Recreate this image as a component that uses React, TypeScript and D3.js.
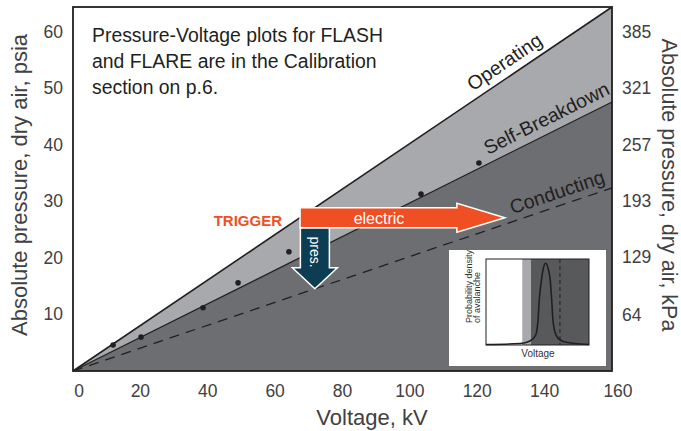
import React from "react";
import * as d3 from "d3";

// ---- data ----
const voltageTicks = [0, 20, 40, 60, 80, 100, 120, 140, 160];
const psiaTicks = [10, 20, 30, 40, 50, 60];
const kpaTicks = [64, 129, 193, 257, 321, 385];

const lineVoltage = [0, 160];
const operatingPsia = [0, 64.4];
const breakdownPsia = [0, 47.6];
const conductingPsia = [0, 32.4];

const measuredVoltage = [11.9, 20.2, 38.6, 49.0, 64.1, 103.3, 120.5];
const measuredPsia = [4.6, 6.0, 11.2, 15.6, 21.1, 31.3, 36.8];

const noteLines = [
  "Pressure-Voltage plots for FLASH",
  "and FLARE are in the Calibration",
  "section on p.6.",
];

// trigger annotation anchors (data space)
const triggerVoltage = 67.4;
const triggerPsia = 27.1;
const electricTipVoltage = 128.2;
const presTipVoltage = 71.8;

// inset (schematic) data
const insetVoltage = [0, 33, 42.7, 48.3, 50.5, 51.7, 53.9, 55.8, 58, 60.1, 62.3, 63.8, 65, 68, 73.8, 86.4, 100];
const insetDensity = [0.006, 0.017, 0.047, 0.116, 0.29, 0.52, 0.76, 0.9, 0.95, 0.9, 0.76, 0.52, 0.29, 0.116, 0.047, 0.017, 0.006];
const insetBreakdown = 35.2;
const insetConducting = 43.7;
const insetOperating = 71.8;

const FONT = "'Liberation Sans', Arial, Helvetica, sans-serif";
const LIGHT = "#a7a9ac";
const DARK = "#6d6e71";
const INK = "#231f20";
const TXT = "#414042";

export default function App() {
  const W = 681, H = 431;
  const left = 73, right = 612, top = 7, bottom = 371;
  const yMax = 64.4;
  const kpaPerPsia = 385 / 60;

  const x = d3.scaleLinear().domain([0, 160]).range([left, right]);
  const y = d3.scaleLinear().domain([0, yMax]).range([bottom, top]);
  const yK = d3.scaleLinear().domain([0, yMax * kpaPerPsia]).range([bottom, top]);

  const idx = lineVoltage.map((_, i) => i);
  const lightArea = d3.area<number>()
    .x((i) => x(lineVoltage[i]))
    .y0((i) => y(breakdownPsia[i]))
    .y1((i) => y(operatingPsia[i]))(idx)!;
  const darkArea = d3.area<number>()
    .x((i) => x(lineVoltage[i]))
    .y0(() => y(0))
    .y1((i) => y(breakdownPsia[i]))(idx)!;
  const mkLine = (vals: number[]) =>
    d3.line<number>().x((i) => x(lineVoltage[i])).y((i) => y(vals[i]))(idx)!;

  const slopeOf = (vals: number[]) => vals[1] / (lineVoltage[1] - lineVoltage[0]);
  const angleOf = (vals: number[]) =>
    (Math.atan2(y(vals[1]) - y(vals[0]), x(lineVoltage[1]) - x(lineVoltage[0])) * 180) / Math.PI;

  const lineLabel = (text: string, vals: number[], v: number, off: number) => {
    const a = angleOf(vals);
    const px = x(v), py = y(slopeOf(vals) * v);
    return (
      <text
        key={text}
        transform={`translate(${px},${py}) rotate(${a}) translate(0,${-off})`}
        textAnchor="middle"
        fontSize={19.5}
        fill={INK}
        fontFamily={FONT}
      >
        {text}
      </text>
    );
  };

  // arrows
  const ex0 = x(triggerVoltage);
  const eyc = y(triggerPsia);
  const ext = x(electricTipVoltage);
  const shaftH = 10, headH = 14.5, headL = 48;
  const electricPts = [
    [ex0, eyc - shaftH], [ext - headL, eyc - shaftH], [ext - headL, eyc - headH], [ext, eyc],
    [ext - headL, eyc + headH], [ext - headL, eyc + shaftH], [ex0, eyc + shaftH],
  ];
  const cSlope = slopeOf(conductingPsia);
  const pxc = x(presTipVoltage);
  const pyt = y(cSlope * presTipVoltage);
  const pTop = eyc + shaftH;
  const pShaftW = 14.5, pHeadW = 22.5, pHeadL = 21;
  const presPts = [
    [pxc - pShaftW, pTop], [pxc + pShaftW, pTop], [pxc + pShaftW, pyt - pHeadL], [pxc + pHeadW, pyt - pHeadL],
    [pxc, pyt], [pxc - pHeadW, pyt - pHeadL], [pxc - pShaftW, pyt - pHeadL],
  ];
  const ptsStr = (p: number[][]) => p.map((q) => q.join(",")).join(" ");

  // inset
  const ix = d3.scaleLinear().domain([0, 100]).range([486, 589]);
  const iy = d3.scaleLinear().domain([0, 1]).range([345, 259]);
  const insetIdx = insetVoltage.map((_, i) => i);
  const insetCurve = d3.line<number>()
    .x((i) => ix(insetVoltage[i]))
    .y((i) => iy(insetDensity[i]))
    .curve(d3.curveMonotoneX)(insetIdx)!;

  return (
    <svg width={W} height={H} style={{ position: "absolute", left: 0, top: 0, background: "#fff" }} fontFamily={FONT}>
      <rect x={0} y={0} width={W} height={H} fill="#fff" />
      {/* regions */}
      <path d={lightArea} fill={LIGHT} />
      <path d={darkArea} fill={DARK} />
      {/* lines */}
      <path d={mkLine(operatingPsia)} stroke={INK} strokeWidth={1.6} fill="none" />
      <path d={mkLine(breakdownPsia)} stroke={INK} strokeWidth={1.3} fill="none" />
      <path d={mkLine(conductingPsia)} stroke={INK} strokeWidth={1.3} fill="none" strokeDasharray="10,7" />
      {/* measured points */}
      {measuredVoltage.map((v, i) => (
        <circle key={i} cx={x(v)} cy={y(measuredPsia[i])} r={2.8} fill={INK} />
      ))}
      {/* line labels */}
      {lineLabel("Operating", operatingPsia, 130.5, 8)}
      {lineLabel("Self-Breakdown", breakdownPsia, 142.5, 8)}
      {lineLabel("Conducting", conductingPsia, 145, 7)}

      {/* note */}
      {noteLines.map((t, i) => (
        <text key={t} x={92} y={42 + i * 26} fontSize={19.4} fill={INK}>
          {t}
        </text>
      ))}

      {/* arrows */}
      <polygon points={ptsStr(presPts)} fill="#0c3d52" stroke="#fff" strokeWidth={1.5} />
      <text
        transform={`translate(${pxc},${252}) rotate(90)`}
        textAnchor="middle"
        dominantBaseline="central"
        fontSize={14}
        fill="#fff"
      >
        pres.
      </text>
      <polygon points={ptsStr(electricPts)} fill="#f04e23" stroke="#fff" strokeWidth={1.5} />
      <text x={379} y={eyc + 6} textAnchor="middle" fontSize={16} fill="#fff">
        electric
      </text>
      <text x={282} y={eyc + 8} textAnchor="end" fontSize={15} fontWeight="bold" fill="#f04e23">
        TRIGGER
      </text>

      {/* inset */}
      <rect x={449} y={250} width={157} height={116} fill="#fff" />
      <rect x={ix(0)} y={iy(1)} width={ix(insetBreakdown) - ix(0)} height={iy(0) - iy(1)} fill="#fff" />
      <rect x={ix(insetBreakdown)} y={iy(1)} width={ix(insetConducting) - ix(insetBreakdown)} height={iy(0) - iy(1)} fill={LIGHT} />
      <rect x={ix(insetConducting)} y={iy(1)} width={ix(100) - ix(insetConducting)} height={iy(0) - iy(1)} fill="#58595b" />
      <line x1={ix(insetOperating)} x2={ix(insetOperating)} y1={iy(1)} y2={iy(0)} stroke={INK} strokeWidth={1} strokeDasharray="4,3" />
      <path d={insetCurve} stroke={INK} strokeWidth={1.6} fill="none" />
      <rect x={ix(0)} y={iy(1)} width={ix(100) - ix(0)} height={iy(0) - iy(1)} fill="none" stroke={INK} strokeWidth={1} />
      <text x={538} y={357} textAnchor="middle" fontSize={10} fill="#333">Voltage</text>
      <text transform="translate(471.5,323) rotate(-90)" fontSize={9} fill="#333">Probability density</text>
      <text transform="translate(480,323) rotate(-90)" fontSize={9} fill="#333">of avalanche</text>

      {/* frame */}
      <rect x={left} y={top} width={right - left} height={bottom - top} fill="none" stroke={INK} strokeWidth={1.8} />

      {/* axes tick labels */}
      {voltageTicks.map((t, i) => (
        <text
          key={t}
          x={x(t) + (i === 0 || i === voltageTicks.length - 1 ? 6 : 0)}
          y={397}
          textAnchor="middle"
          fontSize={17.5}
          fill={TXT}
        >
          {t}
        </text>
      ))}
      {psiaTicks.map((t) => (
        <text key={t} x={63} y={y(t)} textAnchor="end" dominantBaseline="central" fontSize={17.5} fill={TXT}>
          {t}
        </text>
      ))}
      {kpaTicks.map((t) => (
        <text key={t} x={622} y={yK(t)} textAnchor="start" dominantBaseline="central" fontSize={17.5} fill={TXT}>
          {t}
        </text>
      ))}

      {/* axis titles */}
      <text x={372} y={425} textAnchor="middle" fontSize={22} fill={TXT}>
        Voltage, kV
      </text>
      <text transform="translate(27,185) rotate(-90)" textAnchor="middle" fontSize={22} fill={TXT}>
        Absolute pressure, dry air, psia
      </text>
      <text transform="translate(662,185) rotate(90)" textAnchor="middle" fontSize={21.5} fill={TXT}>
        Absolute pressure, dry air, kPa
      </text>
    </svg>
  );
}
